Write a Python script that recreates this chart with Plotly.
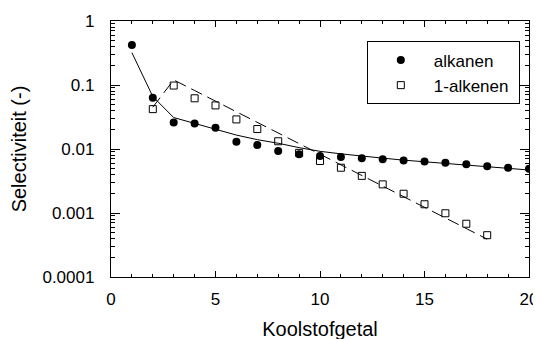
import plotly.graph_objects as go

# Data
carbon_alkanes = list(range(1, 21))
alkanes = [0.42, 0.063, 0.026, 0.025, 0.0215, 0.013, 0.0115, 0.0093, 0.0083, 0.0078,
           0.0075, 0.0072, 0.0069, 0.0066, 0.0064, 0.0061, 0.0058, 0.0054, 0.0051, 0.0049]

carbon_alkenes = list(range(2, 19))
alkenes = [0.042, 0.098, 0.062, 0.048, 0.029, 0.0205, 0.0132, 0.0087, 0.0065, 0.0051,
           0.0038, 0.0028, 0.0020, 0.00137, 0.00099, 0.00068, 0.00045]

# Model curves
model_alkanes = [0.32, 0.066, 0.031, 0.025, 0.020, 0.0165, 0.014, 0.0123, 0.0105, 0.0092,
                 0.0084, 0.0077, 0.0072, 0.0067, 0.0063, 0.0059, 0.0056, 0.0053, 0.0050, 0.0047]
model_alkenes = [0.045, 0.12, 0.082, 0.056, 0.038, 0.026, 0.0178, 0.0121, 0.0083, 0.0056,
                 0.0039, 0.0026, 0.0018, 0.00122, 0.00084, 0.00057, 0.00039]

y_ticks = [1, 0.1, 0.01, 0.001, 0.0001]
y_tick_labels = ["1", "0.1", "0.01", "0.001", "0.0001"]

FONT = "Liberation Sans, Arial, sans-serif"

fig = go.Figure()
fig.add_trace(go.Scatter(x=carbon_alkanes, y=model_alkanes, mode="lines",
                         line=dict(color="black", width=1), showlegend=False))
fig.add_trace(go.Scatter(x=carbon_alkenes, y=model_alkenes, mode="lines",
                         line=dict(color="black", width=1, dash="12px,6px"), showlegend=False))
fig.add_trace(go.Scatter(x=carbon_alkanes, y=alkanes, mode="markers", name="alkanen",
                         marker=dict(symbol="circle", size=8, color="black")))
fig.add_trace(go.Scatter(x=carbon_alkenes, y=alkenes, mode="markers", name="1-alkenen\u00a0",
                         marker=dict(symbol="square-open", size=7, color="black",
                                     line=dict(width=1, color="black"))))

# The page body has an 8px margin, so the margins are offset by it.
fig.update_layout(
    width=533, height=339,
    margin=dict(l=103, r=12, t=13, b=70, autoexpand=False),
    paper_bgcolor="white", plot_bgcolor="white",
    font=dict(family=FONT, size=17, color="black"),
    legend=dict(x=0.612, y=0.92, xanchor="left", yanchor="top",
                bordercolor="black", borderwidth=1, bgcolor="white",
                font=dict(size=17), itemwidth=56, tracegroupgap=0),
    xaxis=dict(range=[0, 20], tick0=0, dtick=5, ticks="inside", ticklen=6, tickwidth=1.3,
               tickcolor="black", showline=True, linecolor="black", linewidth=1.3,
               mirror="ticks", showgrid=False, zeroline=False, automargin=False,
               minor=dict(ticks="inside", dtick=1, ticklen=3, tickwidth=1.3,
                          tickcolor="black", showgrid=False),
               title=dict(text="Koolstofgetal", font=dict(size=20), standoff=14),
               ticklabelstandoff=6),
    yaxis=dict(type="log", range=[-4, 0], tickvals=y_ticks, ticktext=y_tick_labels,
               ticks="inside", ticklen=9, tickwidth=1.3, tickcolor="black", showline=True,
               linecolor="black", linewidth=1.3, mirror="ticks", showgrid=False,
               zeroline=False, automargin=False,
               minor=dict(ticks="inside", ticklen=4, tickwidth=1.3, tickcolor="black",
                          showgrid=False, dtick="D1"),
               title=dict(text="Selectiviteit (-)", font=dict(size=20), standoff=12),
               ticklabelstandoff=12),
)

fig.write_html("out.html")
